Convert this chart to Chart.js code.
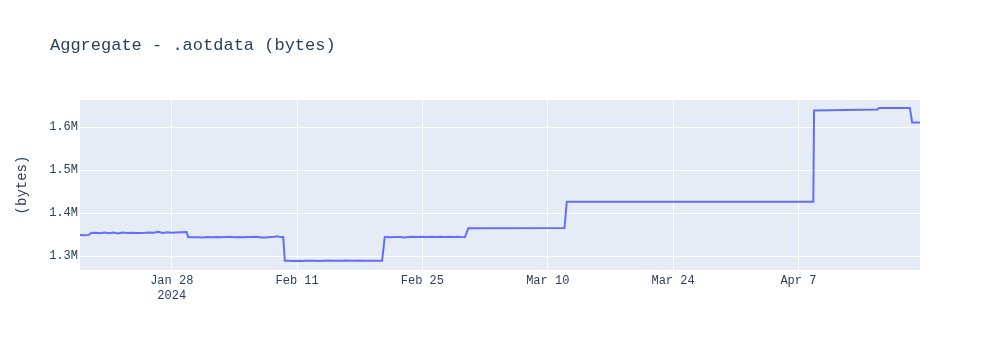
<!DOCTYPE html>
<html>
<head>
<meta charset="utf-8">
<script src="https://cdn.jsdelivr.net/npm/chart.js@4"></script>
<style>
  body { margin: 0; background: #fff; }
  canvas { display: block; }
</style>
</head>
<body>
<canvas id="chartAot" width="1000" height="350"></canvas>
<script>
// readings (UTC) and sizes in bytes
const fechas = [
    "2024-01-17T18:00", "2024-01-18T06:00", "2024-01-18T18:00", "2024-01-19T00:00", "2024-01-19T12:00",
    "2024-01-20T00:00", "2024-01-20T12:00", "2024-01-21T00:00", "2024-01-21T12:00", "2024-01-22T00:00",
    "2024-01-22T12:00", "2024-01-23T00:00", "2024-01-23T12:00", "2024-01-24T00:00", "2024-01-24T12:00",
    "2024-01-25T00:00", "2024-01-25T12:00", "2024-01-26T00:00", "2024-01-26T12:00", "2024-01-27T00:00",
    "2024-01-27T12:00", "2024-01-28T00:00", "2024-01-28T12:00", "2024-01-29T00:00", "2024-01-29T16:00",
    "2024-01-29T20:00", "2024-01-30T12:00", "2024-01-31T00:00", "2024-01-31T12:00", "2024-02-01T00:00",
    "2024-02-01T12:00", "2024-02-02T00:00", "2024-02-02T12:00", "2024-02-03T00:00", "2024-02-03T12:00",
    "2024-02-04T00:00", "2024-02-04T12:00", "2024-02-05T00:00", "2024-02-05T12:00", "2024-02-06T00:00",
    "2024-02-06T12:00", "2024-02-07T00:00", "2024-02-07T14:00", "2024-02-08T00:00", "2024-02-08T12:00",
    "2024-02-08T18:00", "2024-02-09T06:00", "2024-02-09T11:00", "2024-02-09T15:00", "2024-02-10T00:00",
    "2024-02-10T12:00", "2024-02-11T00:00", "2024-02-11T12:00", "2024-02-12T00:00", "2024-02-12T12:00",
    "2024-02-13T00:00", "2024-02-13T12:00", "2024-02-14T00:00", "2024-02-14T12:00", "2024-02-15T00:00",
    "2024-02-15T12:00", "2024-02-16T00:00", "2024-02-16T12:00", "2024-02-17T00:00", "2024-02-17T12:00",
    "2024-02-18T00:00", "2024-02-18T12:00", "2024-02-19T00:00", "2024-02-19T12:00", "2024-02-20T00:00",
    "2024-02-20T12:00", "2024-02-20T19:00", "2024-02-21T00:00", "2024-02-21T12:00", "2024-02-22T00:00",
    "2024-02-22T12:00", "2024-02-23T00:00", "2024-02-23T12:00", "2024-02-24T00:00", "2024-02-24T12:00",
    "2024-02-25T00:00", "2024-02-25T12:00", "2024-02-26T00:00", "2024-02-26T12:00", "2024-02-27T00:00",
    "2024-02-27T12:00", "2024-02-28T00:00", "2024-02-28T12:00", "2024-02-29T00:00", "2024-02-29T12:00",
    "2024-02-29T18:00", "2024-03-01T03:00", "2024-03-11T21:00", "2024-03-12T03:00", "2024-04-08T16:00",
    "2024-04-08T18:00", "2024-04-15T20:00", "2024-04-16T00:00", "2024-04-19T11:00", "2024-04-19T17:00",
    "2024-04-20T14:00"
];
const bytes = [
    1349000, 1348500, 1349200, 1353500, 1354000,
    1353000, 1354500, 1353200, 1355000, 1352500,
    1354800, 1353800, 1354200, 1353500, 1353800,
    1354000, 1354500, 1354000, 1356200, 1353500,
    1355500, 1354000, 1354800, 1355200, 1356000,
    1343800, 1343500, 1343800, 1343200, 1344500,
    1344000, 1344500, 1343600, 1344200, 1344800,
    1344000, 1344500, 1343800, 1344500, 1344300,
    1344600, 1343200, 1343000, 1344200, 1344800,
    1345800, 1344000, 1344000, 1288800, 1289000,
    1288500, 1288800, 1288200, 1289000, 1288700,
    1289200, 1288600, 1289000, 1289300, 1288800,
    1289200, 1288900, 1289400, 1288700, 1289100,
    1289300, 1288800, 1289100, 1288900, 1289200,
    1289000, 1344200, 1344000, 1343800, 1344200,
    1344400, 1343200, 1344500, 1344600, 1344400,
    1344600, 1344500, 1344700, 1344400, 1344800,
    1344200, 1344600, 1344400, 1344700, 1344000,
    1343600, 1364400, 1365000, 1426300, 1426300,
    1638800, 1641200, 1644700, 1644700, 1610800,
    1610800
];
const ticksFecha = ["2024-01-28", "2024-02-11", "2024-02-25", "2024-03-10", "2024-03-24", "2024-04-07"];
const ticksBytes = [1300000, 1400000, 1500000, 1600000];

const meses = ["Jan", "Feb", "Mar", "Apr", "May", "Jun", "Jul", "Aug", "Sep", "Oct", "Nov", "Dec"];
const fuente = '"Liberation Mono", "Courier New", monospace';
const colorTexto = "#2a3f5f";

const toMs = (s) => new Date(s.length > 10 ? s + ":00Z" : s + "T00:00:00Z").getTime();
const puntos = fechas.map((f, i) => ({ x: toMs(f), y: bytes[i] }));
const tickMs = ticksFecha.map(toMs);

const fondoPlot = {
    id: "fondoPlot",
    beforeDraw(chart) {
        const { ctx, chartArea: a } = chart;
        ctx.save();
        ctx.fillStyle = "#E5ECF6";
        ctx.fillRect(a.left, a.top, a.right - a.left, a.bottom - a.top);
        ctx.restore();
    },
    afterDraw(chart) {
        const { ctx, chartArea: a } = chart;
        ctx.save();
        ctx.fillStyle = colorTexto;
        ctx.font = "17px " + fuente;
        ctx.textAlign = "left";
        ctx.textBaseline = "middle";
        ctx.fillText("Aggregate - .aotdata (bytes)", 50, 45);
        ctx.translate(22, (a.top + a.bottom) / 2);
        ctx.rotate(-Math.PI / 2);
        ctx.font = "14px " + fuente;
        ctx.textAlign = "center";
        ctx.fillText("(bytes)", 0, 0);
        ctx.restore();
    },
};

const configAot = {
    type: "line",
    data: {
        datasets: [
            {
                data: puntos,
                borderColor: "#636efa",
                borderWidth: 2,
                pointRadius: 0,
                tension: 0,
                fill: false,
            },
        ],
    },
    options: {
        responsive: false,
        animation: false,
        devicePixelRatio: 1,
        layout: { padding: { left: 0, right: 80, top: 100, bottom: 0 } },
        plugins: {
            legend: { display: false },
            tooltip: { enabled: false },
        },
        scales: {
            x: {
                type: "linear",
                min: puntos[0].x,
                max: puntos[puntos.length - 1].x,
                afterBuildTicks: (s) => { s.ticks = tickMs.map((v) => ({ value: v })); },
                afterFit: (s) => { s.height = 80; },
                grid: { color: "#ffffff", lineWidth: 1, drawTicks: false },
                border: { display: false },
                ticks: {
                    autoSkip: false,
                    maxRotation: 0,
                    padding: 3,
                    color: colorTexto,
                    font: { family: fuente, size: 12, lineHeight: 1.25 },
                    callback: (v, i) => {
                        const d = new Date(v);
                        const txt = meses[d.getUTCMonth()] + " " + d.getUTCDate();
                        return i === 0 ? [txt, String(d.getUTCFullYear())] : txt;
                    },
                },
            },
            y: {
                min: 1267400,
                max: 1663500,
                afterBuildTicks: (s) => { s.ticks = ticksBytes.map((v) => ({ value: v })); },
                afterFit: (s) => { s.width = 80; },
                grid: { color: "#ffffff", lineWidth: 1, drawTicks: false },
                border: { display: false },
                ticks: {
                    padding: 2,
                    color: colorTexto,
                    font: { family: fuente, size: 12 },
                    callback: (v) => (v / 1e6).toFixed(1) + "M",
                },
            },
        },
    },
    plugins: [fondoPlot],
};

new Chart(document.getElementById("chartAot"), configAot);
</script>
</body>
</html>
